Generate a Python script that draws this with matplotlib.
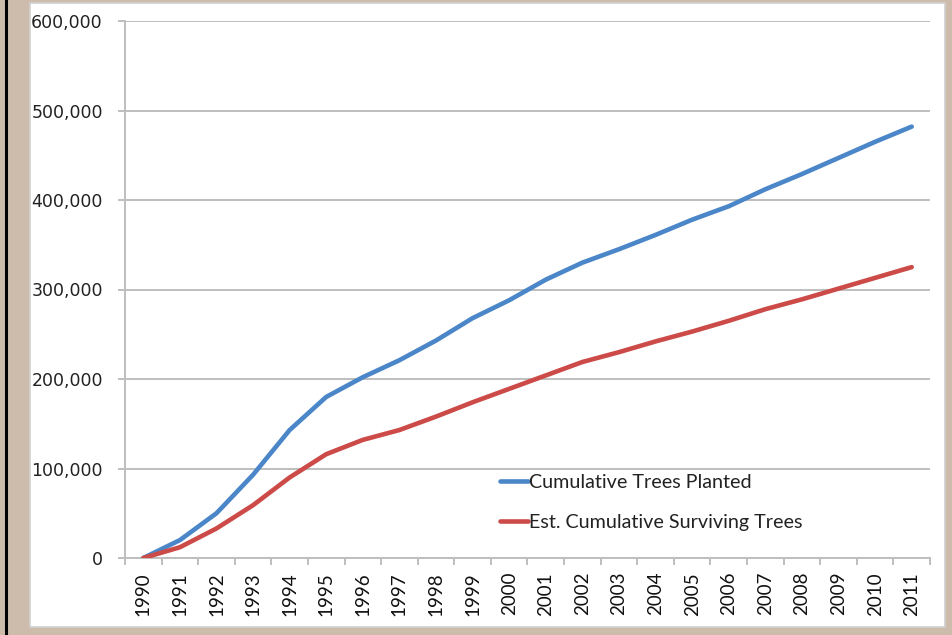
import matplotlib
matplotlib.use("Agg")
import matplotlib.pyplot as plt
from matplotlib.patches import Rectangle
from matplotlib.lines import Line2D
from matplotlib.ticker import FixedLocator

years = [str(y) for y in range(1990, 2012)]
planted = [0, 20000, 50000, 93000, 143000, 180000, 202000, 221000, 243000, 268000,
           288000, 311000, 330000, 345000, 361000, 378000, 393000, 412000, 429000,
           447000, 465000, 482000]
surviving = [0, 12000, 33000, 59000, 90000, 116000, 132000, 143000, 158000, 174000,
             189000, 204000, 219000, 230000, 242000, 253000, 265000, 278000, 289000,
             301000, 313000, 325000]
series_names = ["Cumulative Trees Planted", "Est. Cumulative Surviving Trees"]
yticks = [0, 100000, 200000, 300000, 400000, 500000, 600000]

W, H = 953, 635
fig = plt.figure(figsize=(W / 100, H / 100), dpi=100)
fig.patch.set_facecolor("#CDBBAB")

def fx(px):
    return px / W

def fy(py):
    return 1 - py / H

# black left border line
fig.add_artist(Line2D([fx(6), fx(6)], [0, 1], color="black", lw=2.2, transform=fig.transFigure))
# white panel
fig.add_artist(Rectangle((fx(30), fy(627)), fx(945) - fx(30), fy(3) - fy(627),
                         transform=fig.transFigure, facecolor="white",
                         edgecolor="#D0D0D0", lw=1.2, zorder=0))

ax = fig.add_axes([fx(125), fy(558), fx(930) - fx(125), fy(21) - fy(558)])
ax.set_facecolor("none")
x = list(range(len(years)))
ax.plot(x, planted, color="#4A86C8", lw=3.3, solid_capstyle="round", label=series_names[0], zorder=3)
ax.plot(x, surviving, color="#CC4B48", lw=3.3, solid_capstyle="round", label=series_names[1], zorder=3)

ax.set_xlim(-0.5, len(years) - 0.5)
ax.set_ylim(0, 600000)
ax.set_yticks(yticks)
ax.set_yticklabels([f"{v:,}" for v in yticks], family="DejaVu Sans", fontsize=12.5, color="#222222")
ax.grid(axis="y", color="#BEBEBE", lw=1.4)
ax.set_axisbelow(True)
for s in ["top", "right"]:
    ax.spines[s].set_visible(False)
for s in ["left", "bottom"]:
    ax.spines[s].set_color("#BEBEBE")
    ax.spines[s].set_linewidth(1.4)

ax.tick_params(axis="y", length=5, width=1.4, color="#BEBEBE", pad=11)
ax.set_xticks(x)
ax.set_xticklabels(years, rotation=90, fontsize=13.5, family="Lato", color="#111111")
ax.tick_params(axis="x", which="major", length=0, pad=10)
ax.xaxis.set_minor_locator(FixedLocator([i - 0.5 for i in range(len(years) + 1)]))
ax.tick_params(axis="x", which="minor", length=5, width=1.4, color="#BEBEBE")

leg = ax.legend(loc="upper left", bbox_to_anchor=(0.456, 0.1714), frameon=False,
                handlelength=1.4, handletextpad=0.08, labelspacing=1.15,
                prop={"family": "Lato", "size": 14.2}, borderaxespad=0)
for t in leg.get_texts():
    t.set_color("#222222")

fig.savefig("out.png", dpi=100, facecolor=fig.get_facecolor())
